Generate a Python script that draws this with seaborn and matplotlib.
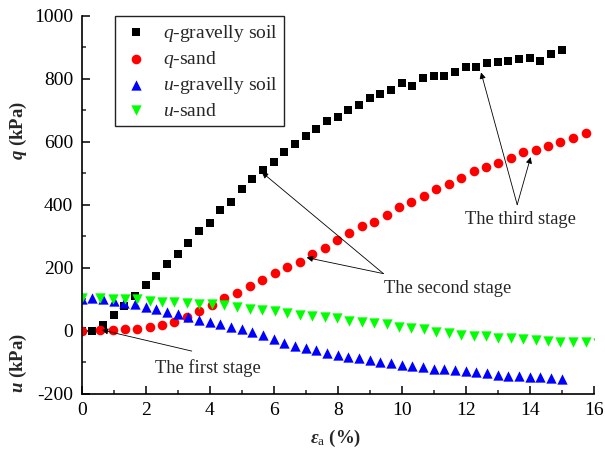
import numpy as np
import pandas as pd
import matplotlib
matplotlib.use("Agg")
import matplotlib.pyplot as plt
import seaborn as sns

# strain (%) for the gravelly soil test
x_gravel = [0.0, 0.33, 0.67, 1.0, 1.33, 1.67, 2.0, 2.33, 2.67, 3.0, 3.33, 3.67,
            4.0, 4.33, 4.67, 5.0, 5.33, 5.67, 6.0, 6.33, 6.67, 7.0, 7.33, 7.67,
            8.0, 8.33, 8.67, 9.0, 9.33, 9.67, 10.0, 10.33, 10.67, 11.0, 11.33,
            11.67, 12.0, 12.33, 12.67, 13.0, 13.33, 13.67, 14.0, 14.33, 14.67, 15.0]
q_gravel = [0, 0, 19, 51, 79, 111, 144, 175, 210, 243, 279, 317,
            343, 383, 410, 451, 482, 510, 537, 568, 594, 617, 640, 665,
            677, 702, 716, 739, 752, 764, 787, 777, 803, 810, 810,
            823, 837, 837, 850, 853, 857, 862, 866, 857, 880, 891]
u_gravel = [100, 102, 100, 95, 89, 83, 75, 68, 60, 52, 44, 35,
            27, 20, 12, 4, -5, -14, -28, -40, -48, -56, -63, -70,
            -77, -83, -88, -94, -99, -104, -109, -113, -117, -121, -123,
            -126, -129, -132, -136, -140, -143, -145, -147, -148, -151, -153]

# strain (%) for the sand test
x_sand = [0.0, 0.57, 0.99, 1.35, 1.73, 2.13, 2.52, 2.89, 3.29, 3.68, 4.06,
          4.46, 4.86, 5.25, 5.65, 6.03, 6.43, 6.81, 7.19, 7.59, 7.98, 8.35,
          8.76, 9.14, 9.54, 9.92, 10.3, 10.7, 11.08, 11.48, 11.86, 12.25,
          12.63, 13.02, 13.41, 13.8, 14.19, 14.58, 14.96, 15.36, 15.75]
q_sand = [0, 2, 2, 4, 4, 10, 17, 28, 44, 61, 81,
          103, 118, 141, 161, 182, 201, 218, 243, 262, 287, 310,
          331, 345, 366, 392, 410, 429, 449, 467, 484, 506,
          519, 533, 547, 567, 575, 586, 598, 612, 627]
x_sand_u = x_sand + [16.14]
u_sand = [102, 102, 101, 99, 99, 94, 91, 91, 89, 86, 84,
          82, 75, 70, 66, 61, 55, 51, 46, 42, 39, 31,
          28, 24, 20, 12, 9, 4, -4, -9, -13, -16,
          -17, -22, -25, -28, -30, -33, -36, -36, -37, -39]

sns.set_style("ticks")
plt.rcParams['font.family'] = ['Liberation Serif', 'DejaVu Serif']
plt.rcParams['mathtext.fontset'] = 'custom'
plt.rcParams['mathtext.rm'] = 'Liberation Serif'
plt.rcParams['mathtext.it'] = 'Liberation Serif:italic'
plt.rcParams['mathtext.bf'] = 'Liberation Serif:italic:bold'
plt.rcParams['axes.unicode_minus'] = False

fig = plt.figure(figsize=(6.05, 4.55), dpi=100)
ax = fig.add_axes([0.135, 0.135, 0.8463, 0.8303])

df_qg = pd.DataFrame({'x': x_gravel, 'y': q_gravel})
df_qs = pd.DataFrame({'x': x_sand, 'y': q_sand})
df_ug = pd.DataFrame({'x': x_gravel, 'y': u_gravel})
df_us = pd.DataFrame({'x': x_sand_u, 'y': u_sand})

sns.scatterplot(data=df_qg, x='x', y='y', marker='s', color='#000000', s=38,
                linewidth=0, ax=ax, label=r'$q$-gravelly soil')
sns.scatterplot(data=df_qs, x='x', y='y', marker='o', color='#ff0000', s=48,
                linewidth=0, ax=ax, label=r'$q$-sand')
sns.scatterplot(data=df_ug, x='x', y='y', marker='^', color='#0000ff', s=55,
                linewidth=0, ax=ax, label=r'$u$-gravelly soil')
sns.scatterplot(data=df_us, x='x', y='y', marker='v', color='#00ff00', s=55,
                linewidth=0, ax=ax, label=r'$u$-sand')

ax.set_xlim(0, 16)
ax.set_ylim(-200, 1000)
ax.set_xticks(np.arange(0, 17, 2))
ax.set_xticks(np.arange(1, 16, 2), minor=True)
ax.set_yticks(np.arange(-200, 1001, 200))
ax.set_yticks(np.arange(-100, 1000, 200), minor=True)
ax.tick_params(which='major', direction='in', length=6, width=1.1,
               labelsize=14, pad=6, colors='k')
ax.tick_params(which='minor', direction='in', length=3, width=1.1)
sns.despine(ax=ax)
for side in ['left', 'bottom']:
    ax.spines[side].set_linewidth(1.2)
    ax.spines[side].set_color('k')

ax.set_xlabel('')
ax.set_ylabel('')
fig.text(0.554, 0.037, r'$\mathbf{\varepsilon}_{\mathrm{a}}$ (%)', fontsize=13.5,
         fontweight='bold', ha='center', va='center')
fig.text(0.031, 0.714, r'$\mathbf{q}$ (kPa)', fontsize=13.5, fontweight='bold',
         rotation=90, ha='center', va='center')
fig.text(0.031, 0.202, r'$\mathbf{u}$ (kPa)', fontsize=13.5, fontweight='bold',
         rotation=90, ha='center', va='center')

# stage annotations
arrow = dict(arrowstyle='-|>', color='k', lw=0.6, mutation_scale=9,
             shrinkA=0, shrinkB=0)
ax.text(3.93, -119, 'The first stage', fontsize=13.3, ha='center', va='center')
ax.annotate('', xy=(0.63, 2), xytext=(3.44, -65), arrowprops=arrow)
ax.text(11.43, 135, 'The second stage', fontsize=13.3, ha='center', va='center')
ax.annotate('', xy=(5.63, 503), xytext=(9.43, 181), arrowprops=arrow)
ax.annotate('', xy=(7.03, 232), xytext=(9.43, 181), arrowprops=arrow)
ax.text(13.7, 353, 'The third stage', fontsize=13.3, ha='center', va='center')
ax.annotate('', xy=(12.48, 820), xytext=(13.61, 400), arrowprops=arrow)
ax.annotate('', xy=(14.03, 551), xytext=(13.61, 400), arrowprops=arrow)

leg = ax.legend(loc='upper left', bbox_to_anchor=(0.065, 1.0), fontsize=14,
                frameon=True, fancybox=False, framealpha=1, edgecolor='#222222',
                borderpad=0.35, labelspacing=0.28, handletextpad=0.6,
                handlelength=1.5, borderaxespad=0)
leg.get_frame().set_linewidth(1.0)

fig.savefig('out.png', dpi=100)
